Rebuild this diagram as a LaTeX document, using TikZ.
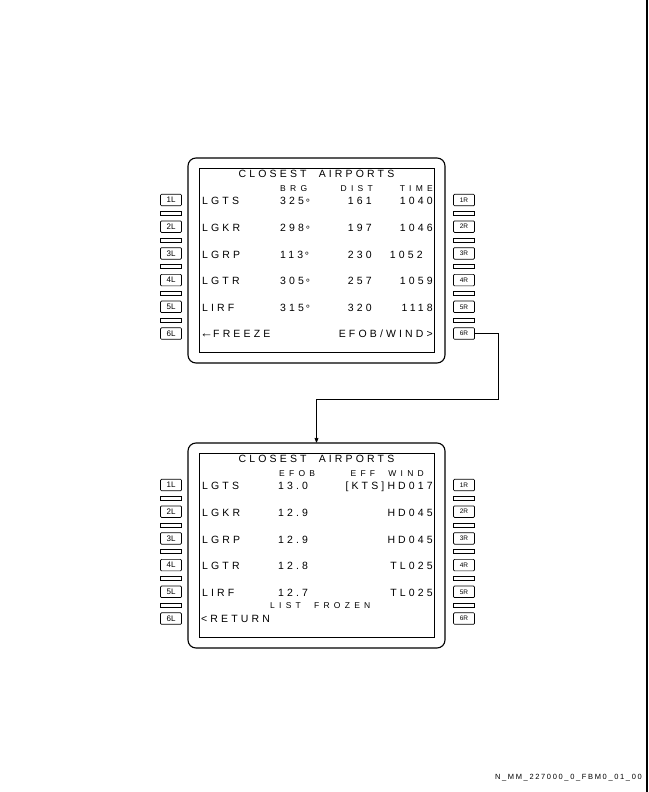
\documentclass[tikz,border=0pt]{standalone}
\usepackage{fontspec}
\setmainfont{Liberation Sans}
\newfontfamily\cdufont[LetterSpace=30]{Liberation Sans}
\newfontfamily\headfont[LetterSpace=50]{Liberation Sans}
\newfontfamily\reffont[LetterSpace=22]{Liberation Sans}
\usetikzlibrary{arrows,positioning,calc}
\tikzset{>=stealth'}
\tikzset{
          bezel/.style={draw=black,line width=1.1pt,rounded corners=8pt,
            minimum width=257pt,minimum height=205pt,inner sep=0pt},
          screen/.style={draw=black,line width=0.9pt,
            minimum width=235pt,minimum height=184pt,inner sep=0pt},
          lsk/.style={draw=black,line width=0.7pt,rounded corners=1pt,
            minimum width=21pt,minimum height=11.5pt,inner sep=0pt,
            font=\fontsize{8}{8}\selectfont},
          rsk/.style={lsk,font=\fontsize{6.5}{6.5}\selectfont},
          lskbar/.style={draw=black,line width=0.7pt,
            minimum width=21pt,minimum height=4pt,inner sep=0pt},
          texto/.style={inner sep=0pt,font=\fontsize{10.5}{10.5}\cdufont},
          head/.style={inner sep=0pt,font=\fontsize{8.5}{8.5}\headfont},
          link/.style={->,line width=0.7pt}
        }
\newcommand\CduFrame[2]{%
          \node[bezel] (#1bezel) at (316.5,260.5+#2) {};
          \node[screen] (#1screen) at (316.5,260+#2) {};
          \foreach \k in {1,...,6}{
            \node[lsk] (#1\k L) at (171,{200+26.7*(\k-1)+#2}) {\k L};
            \node[rsk] (#1\k R) at (464,{200+26.7*(\k-1)+#2}) {\k R};
          }
          \foreach \k in {1,...,5}{
            \node[lskbar] (#1barL\k) at (171,{213.3+26.7*(\k-1)+#2}) {};
            \node[lskbar] (#1barR\k) at (464,{213.3+26.7*(\k-1)+#2}) {};
          }
        }
\newcommand\Field[5]{%
          \node[texto,anchor=#2] (#1) at (#3,#4) {#5};
        }
\newcommand\Deg{\,\raisebox{-1.5pt}{°}}
\begin{document}
\begin{tikzpicture}[x=1pt,y=-1pt]
            \useasboundingbox (0,0) rectangle (648,792);
            \draw[line width=1.2pt] (647,0) -- (647,792);

            % upper page
            \CduFrame{up}{0}
            \Field{uptitle}{base}{316.5}{177.3}{CLOSEST\ \ AIRPORTS}
            \node[head,anchor=base west] (upbrg) at (280,191.5) {BRG};
            \node[head,anchor=base east] (updist) at (373,191.5) {DIST};
            \node[head,anchor=base east] (uptime) at (433,191.5) {TIME};

            \Field{upa1}{base west}{202}{204.5}{LGTS}
            \Field{upb1}{base west}{280}{204.5}{325\Deg}
            \Field{upc1}{base east}{372}{204.5}{161}
            \Field{upd1}{base east}{433}{204.5}{1040}
            \Field{upa2}{base west}{202}{231.5}{LGKR}
            \Field{upb2}{base west}{280}{231.5}{298\Deg}
            \Field{upc2}{base east}{372}{231.5}{197}
            \Field{upd2}{base east}{433}{231.5}{1046}
            \Field{upa3}{base west}{202}{258}{LGRP}
            \Field{upb3}{base west}{280}{258}{113\Deg}
            \Field{upc3}{base east}{372}{258}{230}
            \Field{upd3}{base east}{423}{258}{1052}
            \Field{upa4}{base west}{202}{284.7}{LGTR}
            \Field{upb4}{base west}{280}{284.7}{305\Deg}
            \Field{upc4}{base east}{372}{284.7}{257}
            \Field{upd4}{base east}{433}{284.7}{1059}
            \Field{upa5}{base west}{202}{311}{LIRF}
            \Field{upb5}{base west}{280}{311}{315\Deg}
            \Field{upc5}{base east}{372}{311}{320}
            \Field{upd5}{base east}{433}{311}{1118}
            \Field{upfreeze}{base west}{200}{337.5}{{\fontsize{13}{13}\selectfont←}FREEZE}
            \Field{upefob}{base east}{433}{337.5}{EFOB/WIND>}

            % lower page
            \CduFrame{low}{285}
            \Field{lowtitle}{base}{316.5}{462.3}{CLOSEST\ \ AIRPORTS}
            \node[head,anchor=base west] (lowefobh) at (279,476) {EFOB};
            \node[head,anchor=base east] (lowwindh) at (424,476) {EFF\ \ WIND};

            \Field{lowa1}{base west}{202}{489.5}{LGTS}
            \Field{lowb1}{base west}{278}{489.5}{13.0}
            \Field{lowc1}{base east}{433}{489.5}{[KTS]HD017}
            \Field{lowa2}{base west}{202}{516.5}{LGKR}
            \Field{lowb2}{base west}{278}{516.5}{12.9}
            \Field{lowc2}{base east}{433}{516.5}{HD045}
            \Field{lowa3}{base west}{202}{543}{LGRP}
            \Field{lowb3}{base west}{278}{543}{12.9}
            \Field{lowc3}{base east}{433}{543}{HD045}
            \Field{lowa4}{base west}{202}{569.7}{LGTR}
            \Field{lowb4}{base west}{278}{569.7}{12.8}
            \Field{lowc4}{base east}{433}{569.7}{TL025}
            \Field{lowa5}{base west}{202}{596}{LIRF}
            \Field{lowb5}{base west}{278}{596}{12.7}
            \Field{lowc5}{base east}{433}{596}{TL025}
            \node[head,anchor=base west] (lowfrozen) at (270,608.3) {LIST\ \ FROZEN};
            \Field{lowreturn}{base west}{201}{622.7}{<RETURN}

            % 6R leads to the next page
            \coordinate (turn) at (498,399);
            \draw[link] (up6R.east) -| (turn) -| (lowbezel.north);

            \node[inner sep=0pt,font=\fontsize{7.5}{7.5}\reffont,anchor=base east]
              (figref) at (642,779.5) {N\_MM\_227000\_0\_FBM0\_01\_00};
          \end{tikzpicture}
\end{document}
